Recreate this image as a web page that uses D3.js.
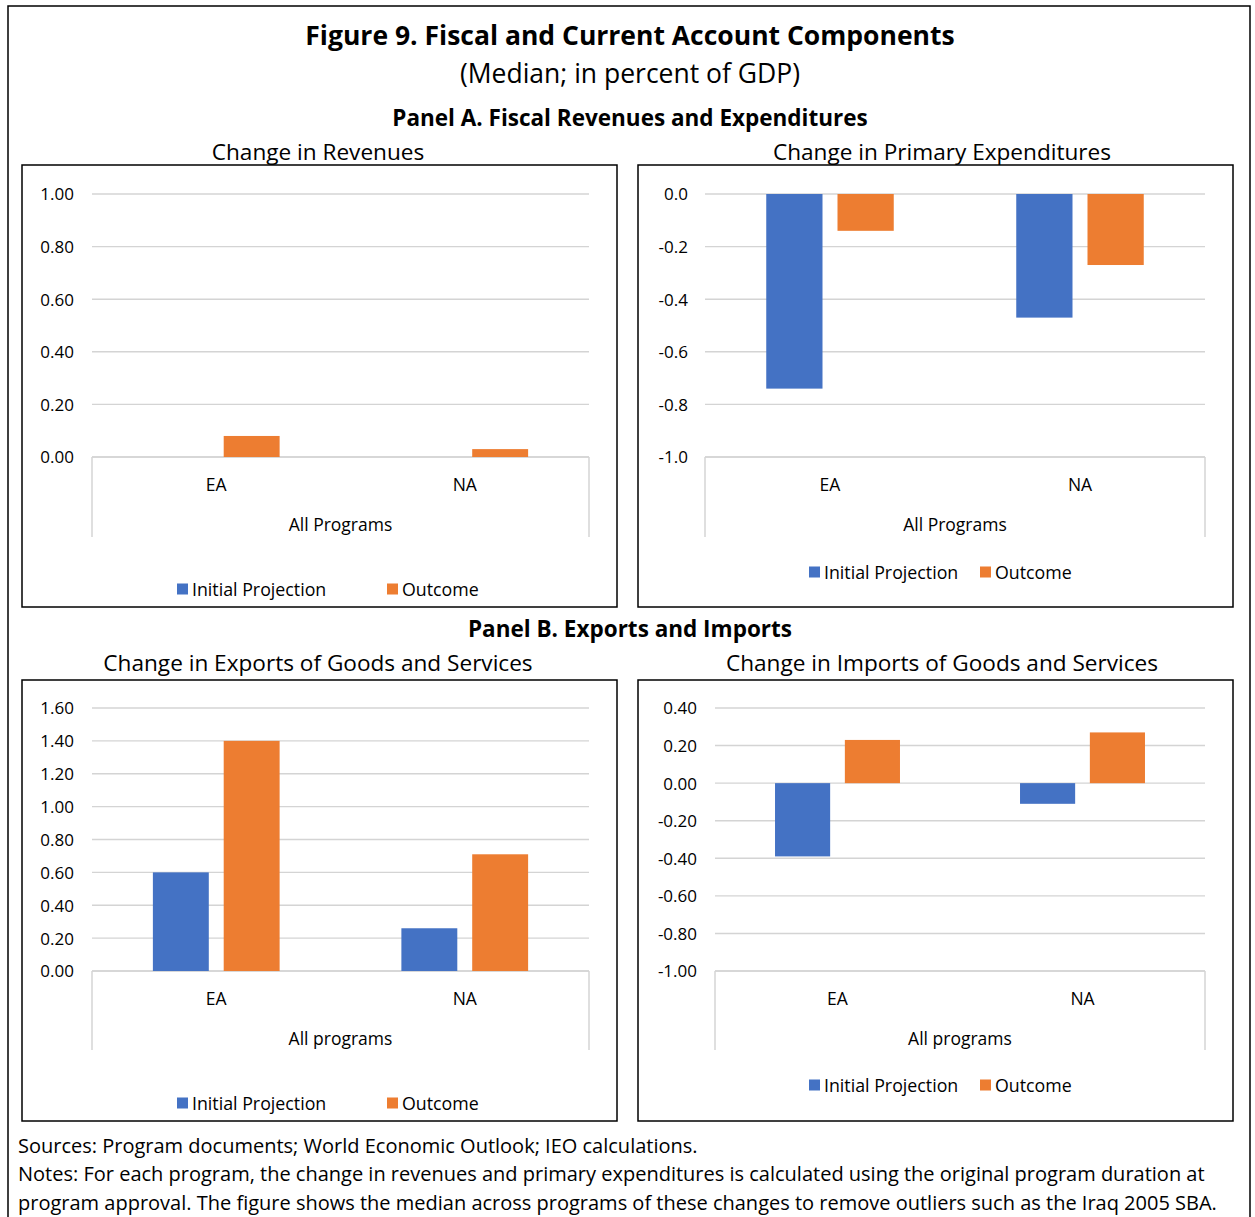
<!DOCTYPE html>
<html>
<head>
<meta charset="utf-8">
<script src="https://cdn.jsdelivr.net/npm/d3@7"></script>
<style>
  html, body { margin: 0; padding: 0; background: #fff; }
  svg text { font-family: "Open Sans", "Noto Sans", sans-serif; fill: #000; }
</style>
</head>
<body>
<svg id="fig" width="1255" height="1217"></svg>
<script>
// ---- data ----
const categories = ["EA", "NA"];
const seriesNames = ["Initial Projection", "Outcome"];

const revenuesInitial = [null, null];
const revenuesOutcome = [0.08, 0.03];
const revenueTicks = [0, 0.2, 0.4, 0.6, 0.8, 1.0];

const expendInitial = [-0.74, -0.47];
const expendOutcome = [-0.14, -0.27];
const expendTicks = [-1.0, -0.8, -0.6, -0.4, -0.2, 0.0];

const exportsInitial = [0.60, 0.26];
const exportsOutcome = [1.40, 0.71];
const exportTicks = [0, 0.2, 0.4, 0.6, 0.8, 1.0, 1.2, 1.4, 1.6];

const importsInitial = [-0.39, -0.11];
const importsOutcome = [0.23, 0.27];
const importTicks = [-1.0, -0.8, -0.6, -0.4, -0.2, 0, 0.2, 0.4];

const colors = ["#4472C4", "#ED7D31"];

const svg = d3.select("#fig");

// outer frame
svg.append("rect").attr("x", 8).attr("y", 6).attr("width", 1242).attr("height", 1240)
  .attr("fill", "none").attr("stroke", "#000").attr("stroke-width", 1.5);

// headings
function heading(text, x, y, size, weight) {
  svg.append("text").attr("x", x).attr("y", y).attr("text-anchor", "middle")
    .attr("dominant-baseline", "central").attr("font-size", size)
    .attr("font-weight", weight).text(text);
}
heading("Figure 9. Fiscal and Current Account Components", 630, 35, 26.5, 700);
heading("(Median; in percent of GDP)", 630, 73, 26.5, 400);
heading("Panel A. Fiscal Revenues and Expenditures", 630, 117, 22.5, 700);
heading("Panel B. Exports and Imports", 630, 628, 22.5, 700);

// Excel-style number labels use a plain hyphen for negatives
function numFormat(spec) {
  const f = d3.format(spec);
  return d => f(d).replace("\u2212", "-");
}

// one bar chart panel
function panel(cfg) {
  const g = svg.append("g");
  g.append("rect").attr("x", cfg.box[0]).attr("y", cfg.box[1])
    .attr("width", cfg.box[2]).attr("height", cfg.box[3])
    .attr("fill", "none").attr("stroke", "#000").attr("stroke-width", 1.5);

  heading(cfg.title, cfg.titleX, cfg.titleY, 22.6, 400);

  const y = d3.scaleLinear().domain(d3.extent(cfg.ticks)).range([cfg.yBottom, cfg.yTop]);
  const x = d3.scaleBand().domain(categories).range([cfg.x0, cfg.x1]);
  const bw = x.bandwidth();
  const barW = bw * 0.225, gap = bw * 0.06;

  // gridlines
  g.append("g").selectAll("line").data(cfg.ticks).join("line")
    .attr("x1", cfg.x0).attr("x2", cfg.x1)
    .attr("y1", d => y(d)).attr("y2", d => y(d))
    .attr("stroke", "#d4d4d4").attr("stroke-width", 1.4);

  // value axis labels
  const yAxis = d3.axisLeft(y).tickValues(cfg.ticks).tickFormat(numFormat(cfg.fmt))
    .tickSize(0).tickPadding(0);
  const ya = g.append("g").attr("transform", `translate(${cfg.labelX},0)`).call(yAxis);
  ya.select(".domain").remove();
  ya.selectAll("text").attr("font-size", 17).attr("fill", "#000")
    .attr("font-family", "Open Sans").attr("dy", "0.35em");

  // category axis: baseline at the bottom of the value range, plus side dividers
  const base = cfg.yBottom;
  g.append("line").attr("x1", cfg.x0).attr("x2", cfg.x1).attr("y1", base).attr("y2", base)
    .attr("stroke", "#d4d4d4").attr("stroke-width", 1.5);
  [cfg.x0, cfg.x1].forEach(xx => {
    g.append("line").attr("x1", xx).attr("x2", xx).attr("y1", base).attr("y2", cfg.divEnd)
      .attr("stroke", "#d4d4d4").attr("stroke-width", 1.5);
  });
  g.append("g").selectAll("text").data(categories).join("text")
    .attr("x", d => x(d) + bw / 2).attr("y", cfg.catY)
    .attr("text-anchor", "middle").attr("dominant-baseline", "central")
    .attr("font-size", 17.5).text(d => d);
  g.append("text").attr("x", (cfg.x0 + cfg.x1) / 2).attr("y", cfg.groupY)
    .attr("text-anchor", "middle").attr("dominant-baseline", "central")
    .attr("font-size", 17.5).text(cfg.group);

  // bars
  const series = [cfg.initial, cfg.outcome];
  series.forEach((vals, si) => {
    g.append("g").selectAll("rect")
      .data(categories.map((c, i) => ({ c, v: vals[i] })).filter(d => d.v !== null))
      .join("rect")
      .attr("x", d => x(d.c) + bw / 2 + (si === 0 ? -gap / 2 - barW : gap / 2))
      .attr("width", barW)
      .attr("y", d => Math.min(y(0), y(d.v)))
      .attr("height", d => Math.abs(y(d.v) - y(0)))
      .attr("fill", colors[si]);
  });

  // legend
  const lg = g.append("g");
  seriesNames.forEach((name, i) => {
    const lx = cfg.legendX[i];
    lg.append("rect").attr("x", lx).attr("y", cfg.legendY - 5.5).attr("width", 11).attr("height", 11)
      .attr("fill", colors[i]);
    lg.append("text").attr("x", lx + 15).attr("y", cfg.legendY)
      .attr("dominant-baseline", "central").attr("font-size", 17.8).text(name);
  });
}

panel({
  title: "Change in Revenues", titleX: 318, titleY: 151, box: [22, 165, 595, 442],
  x0: 92, x1: 589, yTop: 194, yBottom: 457, labelX: 74,
  ticks: revenueTicks, fmt: ".2f", initial: revenuesInitial, outcome: revenuesOutcome,
  catY: 484, groupY: 524, divEnd: 537, group: "All Programs",
  legendX: [177, 387], legendY: 589
});
panel({
  title: "Change in Primary Expenditures", titleX: 942, titleY: 151, box: [638, 165, 595, 442],
  x0: 705, x1: 1205, yTop: 194, yBottom: 457, labelX: 688,
  ticks: expendTicks, fmt: ".1f", initial: expendInitial, outcome: expendOutcome,
  catY: 484, groupY: 524, divEnd: 537, group: "All Programs",
  legendX: [809, 980], legendY: 572
});
panel({
  title: "Change in Exports of Goods and Services", titleX: 318, titleY: 662, box: [22, 680, 595, 441],
  x0: 92, x1: 589, yTop: 708, yBottom: 971, labelX: 74,
  ticks: exportTicks, fmt: ".2f", initial: exportsInitial, outcome: exportsOutcome,
  catY: 998, groupY: 1038, divEnd: 1050, group: "All programs",
  legendX: [177, 387], legendY: 1103
});
panel({
  title: "Change in Imports of Goods and Services", titleX: 942, titleY: 662, box: [638, 680, 595, 441],
  x0: 715, x1: 1205, yTop: 708, yBottom: 971, labelX: 697,
  ticks: importTicks, fmt: ".2f", initial: importsInitial, outcome: importsOutcome,
  catY: 998, groupY: 1038, divEnd: 1050, group: "All programs",
  legendX: [809, 980], legendY: 1085
});

// footnotes
const notes = [
  "Sources: Program documents; World Economic Outlook; IEO calculations.",
  "Notes: For each program, the change in revenues and primary expenditures is calculated using the original program duration at",
  "program approval. The figure shows the median across programs of these changes to remove outliers such as the Iraq 2005 SBA."
];
svg.append("g").selectAll("text").data(notes).join("text")
  .attr("x", 18).attr("y", (d, i) => 1145 + i * 28.5)
  .attr("dominant-baseline", "central").attr("font-size", 20).text(d => d);
</script>
</body>
</html>
